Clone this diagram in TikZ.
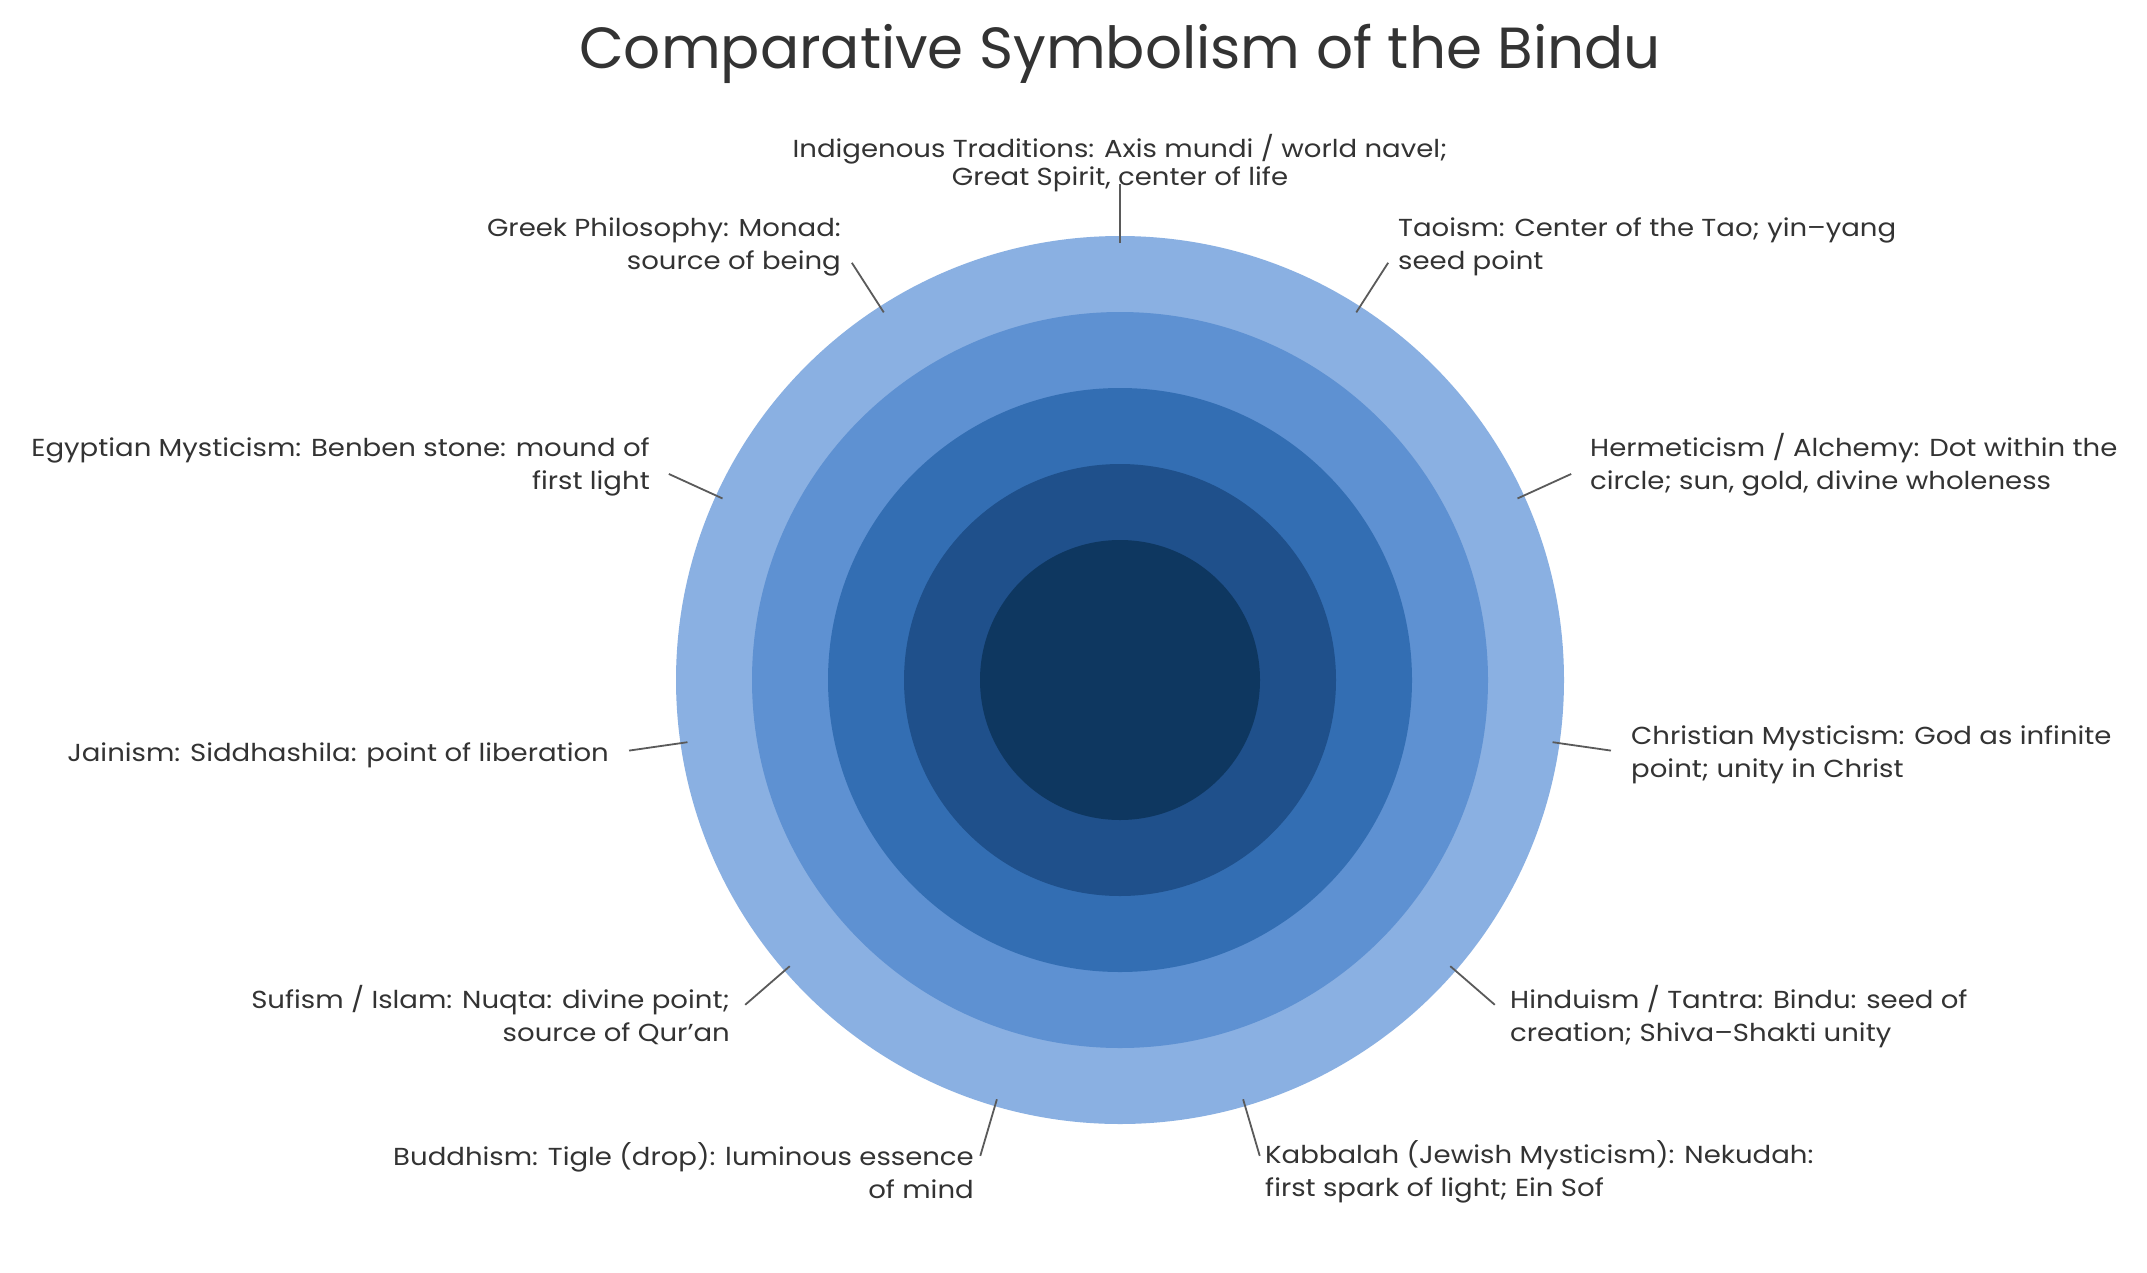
\documentclass[tikz,border=0pt]{standalone}
\usepackage{fontspec}
\setmainfont{Poppins}[FakeStretch=1.12]
\newfontfamily\titlefont{Poppins}
\usetikzlibrary{calc}
\definecolor{ringA}{RGB}{138,176,226}
\definecolor{ringB}{RGB}{94,145,210}
\definecolor{ringC}{RGB}{51,110,179}
\definecolor{ringD}{RGB}{31,80,139}
\definecolor{ringE}{RGB}{14,55,96}
\definecolor{txt}{RGB}{51,51,51}
\definecolor{lead}{RGB}{90,90,90}
\begin{document}
\begin{tikzpicture}[x=1pt,y=-1pt,
  ring/.style={circle,draw=none,inner sep=0pt,outer sep=0pt},
  lbl/.style={text=txt,font=\fontsize{24.6}{33}\selectfont,inner sep=0pt},
  lblL/.style={lbl,align=left,anchor=west},
  lblR/.style={lbl,align=right,anchor=east},
  leader/.style={draw=lead,line width=1.8pt}]
\useasboundingbox[fill=white] (0,0) rectangle (2147,1272);
\coordinate (c) at (1120,680);
\node[ring,fill=ringA,minimum size=888pt] (r1) at (c) {};
\node[ring,fill=ringB,minimum size=736pt] (r2) at (c) {};
\node[ring,fill=ringC,minimum size=584pt] (r3) at (c) {};
\node[ring,fill=ringD,minimum size=432pt] (r4) at (c) {};
\node[ring,fill=ringE,minimum size=280pt] (r5) at (c) {};
\node[text=txt,font=\titlefont\fontsize{58}{66}\selectfont] (title) at (1120,54) {Comparative Symbolism of the Bindu};
\foreach \k in {0,...,10} {
  \coordinate (a\k) at ($(c)+(-90+32.7273*\k:437)$);
  \coordinate (b\k) at ($(c)+(-90+32.7273*\k:496)$);
  \draw[leader] (a\k) -- (b\k);
}
\node[lbl,align=center,anchor=south,font=\fontsize{24.6}{28}\selectfont] (l0) at (1120,192) {Indigenous Traditions: Axis mundi / world navel;\\Great Spirit, center of life};
\node[lblL] (l1) at (1398,247) {Taoism: Center of the Tao; yin–yang\\seed point};
\node[lblL] (l2) at (1590,465) {Hermeticism / Alchemy: Dot within the\\circle; sun, gold, divine wholeness};
\node[lblL] (l3) at (1631,755) {Christian Mysticism: God as infinite\\point; unity in Christ};
\node[lblL] (l4) at (1510,1017) {Hinduism / Tantra: Bindu: seed of\\creation; Shiva–Shakti unity};
\node[lblL] (l5) at (1265,1172) {Kabbalah (Jewish Mysticism): Nekudah:\\first spark of light; Ein Sof};
\node[lblR] (l6) at (974,1171) {Buddhism: Tigle (drop): luminous essence\\of mind};
\node[lblR] (l7) at (730,1015) {Sufism / Islam: Nuqta: divine point;\\source of Qur’an};
\node[lblR] (l8) at (609,755) {Jainism: Siddhashila: point of liberation};
\node[lblR] (l9) at (650,467) {Egyptian Mysticism: Benben stone: mound of\\first light};
\node[lblR] (l10) at (841,247) {Greek Philosophy: Monad:\\source of being};
\end{tikzpicture}
\end{document}
